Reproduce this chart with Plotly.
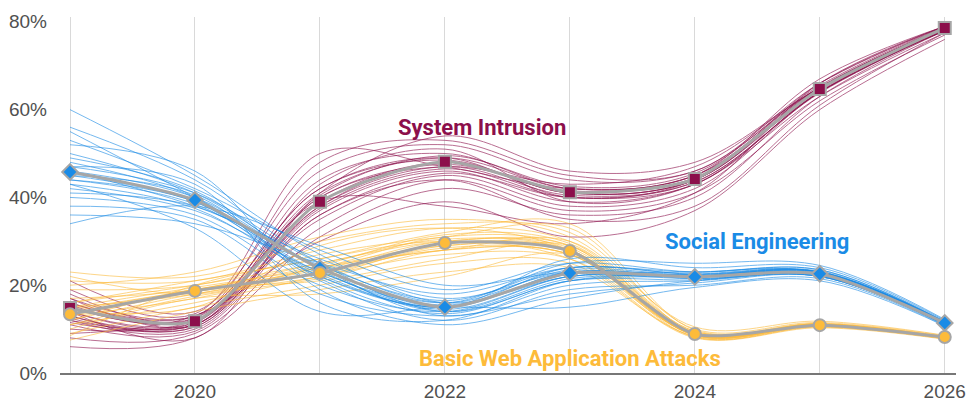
import plotly.graph_objects as go

years = [2019, 2020, 2021, 2022, 2023, 2024, 2025, 2026]
year_labels = ["", "2020", "", "2022", "", "2024", "", "2026"]
pct_vals = [0, 20, 40, 60, 80]
pct_labels = ["0%", "20%", "40%", "60%", "80%"]

social_engineering = [45.8, 39.4, 23.9, 15.0, 22.8, 21.9, 22.6, 11.4]
system_intrusion = [14.8, 11.8, 39.0, 48.1, 41.2, 44.2, 64.7, 78.6]
basic_web_attacks = [13.4, 18.7, 22.8, 29.6, 27.8, 8.9, 10.9, 8.2]

social_samples = [
    [60, 45, 27, 16, 22, 23, 23, 11.5],
    [56, 44, 25, 14, 21, 22, 22.5, 11.2],
    [53, 42, 28, 19, 25, 23, 23.5, 11.8],
    [50, 41, 24, 13, 20, 21, 22, 11],
    [48, 40, 22, 15, 24, 22.5, 23, 11.5],
    [46, 38, 26, 17, 23, 21.5, 22, 11.3],
    [44, 39, 21, 12, 19, 20, 21.5, 10.8],
    [42, 37, 23, 15, 26, 24, 24, 12],
    [40, 36, 20, 14, 22, 22, 23, 11.4],
    [38, 35, 18, 13, 18, 20.5, 22, 11],
    [36, 34, 25, 18, 24, 23, 23.5, 11.6],
    [34, 38, 29, 20, 23, 22, 22.5, 11.3],
    [52, 46, 19, 11, 17, 21, 22, 11],
    [47, 43, 16, 12, 21, 22.5, 23, 11.7],
    [43, 33, 14, 15, 15, 19.5, 21, 10.7],
    [55, 40, 24, 16, 25, 25, 24.5, 12.2],
    [46, 40, 24, 15, 23, 22, 22.8, 11.4],
    [45, 39, 23, 15.5, 22.5, 21.8, 22.5, 11.3],
    [47, 41, 25, 16, 23.5, 22.3, 23, 11.5],
    [44, 38.5, 22.5, 14.5, 22, 21.5, 22.3, 11.2],
    [49, 41.5, 23.5, 14, 21.5, 22, 22.7, 11.4],
    [41, 38, 24.5, 16.5, 24, 22.5, 23.2, 11.6],
    [45, 40.5, 21.5, 13.5, 21, 21.2, 22.2, 11.1],
    [43, 37.5, 22, 15, 23, 22.2, 22.9, 11.5],
]
intrusion_samples = [
    [21, 14, 46, 52, 44, 46, 65, 78],
    [18, 12, 44, 50, 42, 45, 64, 78.5],
    [16, 13, 42, 49, 40, 44, 66, 79],
    [14, 11, 40, 47, 43, 47, 65, 78],
    [12, 10, 37, 46, 39, 43, 63, 77.5],
    [10, 12, 35, 45, 38, 42, 64, 78],
    [8, 9, 33, 44, 37, 41, 62, 77],
    [6, 8, 31, 42, 36, 40, 63, 78],
    [15, 12.5, 48, 53, 45, 46, 66, 79],
    [13, 10.5, 38, 48, 41, 44, 65, 78.5],
    [17, 11, 43, 51, 39, 43, 64, 78],
    [11, 9.5, 36, 44, 35, 38, 61, 77.5],
    [19, 13.5, 50, 47, 42, 45, 67, 79],
    [9, 13, 30, 39, 31, 37, 60, 76],
    [14, 8, 41, 54, 46, 48, 65, 78.5],
    [12, 11.5, 39, 38, 34, 41, 66, 79],
    [15, 12, 39, 48, 41, 44, 64.5, 78.5],
    [14, 11.5, 40, 47.5, 41.5, 44.5, 65, 78.7],
    [16, 12.5, 41, 49, 42, 45, 65.2, 78.6],
    [13, 11, 38, 47, 40.5, 43.5, 64, 78.3],
    [12.5, 10.5, 37.5, 46.5, 40, 43, 64.2, 78.4],
    [17, 13, 42, 48.5, 41, 44, 64.8, 78.8],
    [11.5, 11, 36, 45.5, 40, 43.5, 63.8, 78.2],
    [15.5, 12, 40.5, 49.5, 42.5, 45.5, 65.5, 78.9],
]
web_samples = [
    [23, 22, 30, 34, 32, 10, 11.5, 8.5],
    [21, 21, 28, 33, 30, 9.5, 11, 8.2],
    [19, 20, 27, 31, 33, 9, 11.2, 8],
    [17, 19, 25, 30, 29, 8.5, 10.8, 8],
    [15, 18, 24, 29, 28, 9, 11, 8.2],
    [13, 17, 23, 28, 27, 8.2, 10.5, 7.8],
    [11, 16, 22, 27, 26, 8.8, 10.8, 8],
    [9, 15, 20, 25, 25, 8, 10.3, 7.7],
    [7.5, 14, 19, 23, 24, 8.4, 10.6, 7.9],
    [20, 23, 31, 35, 31, 10.5, 11.8, 8.6],
    [16, 21, 26, 32, 34, 9.8, 11.3, 8.3],
    [12, 19, 21, 26, 29, 9.2, 11, 8.1],
    [10, 17, 18, 22, 27, 8.6, 10.7, 8],
    [14, 15, 29, 33, 28, 9, 11.2, 8.2],
    [22, 18, 24, 28, 30, 9.5, 11, 8.1],
    [8.5, 20, 26, 30, 26, 8.2, 10.5, 7.8],
    [13, 18.5, 23, 29.5, 28, 8.9, 10.9, 8.2],
    [14, 19, 23.5, 30, 28.5, 9, 11, 8.2],
    [12, 18, 22, 29, 27.5, 8.7, 10.8, 8.1],
    [15, 19.5, 24, 31, 29, 9.2, 11.1, 8.3],
    [13.5, 18.5, 22.5, 28.5, 27, 8.8, 10.9, 8.2],
    [16, 20, 25, 30.5, 28, 9.1, 11, 8.2],
    [11, 17.5, 21.5, 28, 27, 8.6, 10.7, 8.1],
    [14.5, 19, 24.5, 31.5, 29.5, 9.3, 11.2, 8.3],
]

BLUE = "#1A8BE6"
MAROON = "#8C0F4B"
YELLOW = "#FDBB3A"
GREY = "#A6A6A6"

fig = go.Figure()

def add_samples(samples, color):
    for s in samples:
        fig.add_trace(go.Scatter(
            x=years, y=s, mode="lines",
            line=dict(color=color, width=1.0, shape="spline", smoothing=1.0),
            opacity=0.6, hoverinfo="skip", showlegend=False))

add_samples(intrusion_samples, MAROON)
add_samples(web_samples, YELLOW)
add_samples(social_samples, BLUE)

def add_main(vals, color, symbol, name):
    fig.add_trace(go.Scatter(
        x=years, y=vals, mode="lines+markers", name=name,
        line=dict(color=GREY, width=3, shape="spline", smoothing=0.7),
        marker=dict(color=color, symbol=symbol, size=12,
                    line=dict(color=GREY, width=2)),
        showlegend=False))

add_main(system_intrusion, MAROON, "square", "System Intrusion")
add_main(social_engineering, BLUE, "diamond", "Social Engineering")
add_main(basic_web_attacks, YELLOW, "circle", "Basic Web Application Attacks")

label_font = "Roboto"
fig.add_annotation(x=2022.3, y=56, text="<b>System Intrusion</b>", showarrow=False,
                   font=dict(family=label_font, size=22, color=MAROON))
fig.add_annotation(x=2024.5, y=30, text="<b>Social Engineering</b>", showarrow=False,
                   font=dict(family=label_font, size=22, color=BLUE))
fig.add_annotation(x=2023.0, y=3.4, text="<b>Basic Web Application Attacks</b>", showarrow=False,
                   font=dict(family=label_font, size=22, color=YELLOW))

fig.update_layout(
    width=968, height=403,
    margin=dict(l=60, r=12, t=17, b=30),
    plot_bgcolor="white", paper_bgcolor="white",
    font=dict(family="Liberation Sans", size=19, color="#505050"),
)
fig.update_xaxes(
    range=[2018.92, 2026.09], tickvals=years, ticktext=year_labels,
    showgrid=True, gridcolor="#D9D9D9", gridwidth=1,
    showline=True, linecolor="#777777", linewidth=2,
    ticks="", zeroline=False, fixedrange=True, automargin=False,
)
fig.update_yaxes(
    range=[0, 81.1], tickvals=pct_vals, ticktext=pct_labels,
    showgrid=False, zeroline=False, showline=False, ticks="",
    ticklabelstandoff=12, fixedrange=True, automargin=False,
)

fig.write_html(
    "out.html",
    config={"displayModeBar": False},
    post_script="document.body.style.margin='0';document.body.style.overflow='hidden';",
)
